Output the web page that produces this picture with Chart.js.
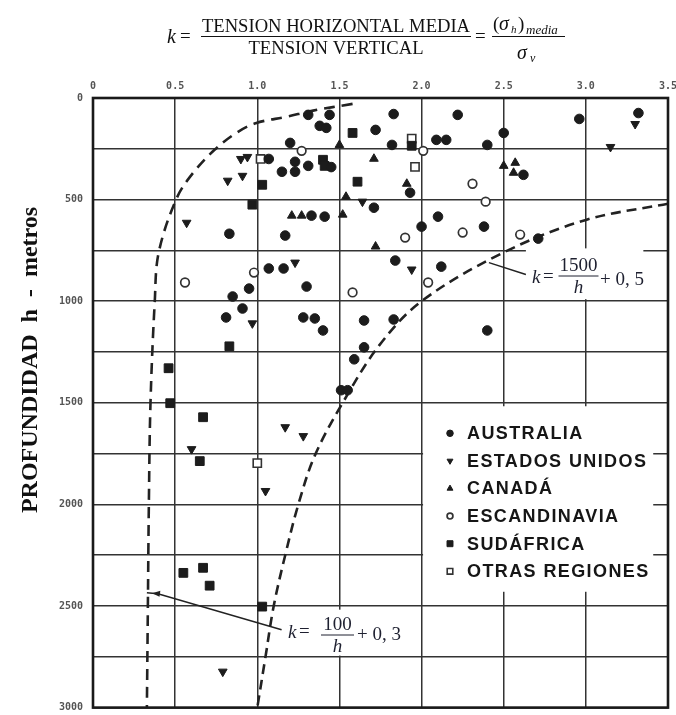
<!DOCTYPE html>
<html>
<head>
<meta charset="utf-8">
<script src="https://cdn.jsdelivr.net/npm/chart.js@4.4.1/dist/chart.umd.min.js"></script>
<style>
html,body{margin:0;padding:0;background:#fff;}
#caja{width:676px;height:715px;}
</style>
</head>
<body>
<div id="caja"><canvas id="lienzo"></canvas></div>
<script>
// valores: k = tension horizontal media / tension vertical, h = profundidad (m)
const australia_k = [1.31,1.44,1.38,1.42,1.72,1.20,1.07,1.15,1.23,1.23,1.31,1.45,1.71,1.33,1.41,0.83,1.17,1.07,1.16,0.95,1.30,0.85,0.91,0.81,1.28,1.35,1.40,1.65,1.65,1.59,1.51,1.55,1.83,2.22,1.82,2.09,2.15,2.40,2.50,2.96,3.32,2.62,1.93,2.10,2.00,2.38,2.71,1.84,2.12,1.83,2.40];
const australia_h = [83,83,137,147,157,221,300,363,314,363,334,340,540,579,584,668,677,839,839,938,928,977,1036,1080,1080,1085,1144,1095,1227,1286,1438,1438,79,83,231,206,206,231,172,103,74,378,466,584,633,633,692,800,830,1090,1144];

const estados_k = [0.90,0.94,0.82,0.91,1.64,0.57,1.23,0.97,1.17,1.28,0.60,1.05,0.79,3.30,3.15,1.94];
const estados_h = [300,290,407,383,510,614,810,1109,1620,1664,1728,1934,2823,128,241,844];

const canada_k = [1.50,1.71,1.54,1.21,1.27,1.52,1.72,2.50,2.57,2.56,1.91];
const canada_h = [231,299,486,579,579,574,731,334,319,368,422];

const escandinavia_k = [1.27,0.98,0.56,1.58,2.31,2.39,1.90,2.25,2.60,2.04,2.01];
const escandinavia_h = [260,859,908,957,422,510,687,662,672,908,260];

const sudafrica_k = [1.58,1.40,1.41,1.03,1.61,0.97,1.94,0.83,0.46,0.47,0.67,0.65,0.55,0.67,0.71,1.03];
const sudafrica_h = [172,304,334,427,412,525,235,1222,1330,1502,1571,1787,2337,2312,2400,2503];

const otras_k = [1.02,1.94,1.96,1.00];
const otras_h = [300,200,339,1797];

// curvas limite
const curva_alta_k = [3.5,3.0,2.5,2.0,1.74,1.52,1.35,1.25,1.17,1.10,1.05,1.0];
const curva_alta_h = [520,600,760,1000,1220,1500,1760,2000,2250,2500,2750,3000];
const curva_baja_k = [1.58,1.34,1.18,0.99,0.87,0.74,0.61,0.51,0.40,0.376,0.35,0.34,0.334,0.328];
const curva_baja_h = [29,62,92,124,173,255,368,492,760,1000,1500,2000,2500,3000];

const etiquetas_x = ['0','0.5','1.0','1.5','2.0','2.5','3.0','3.5'];
const etiquetas_y = ['0','500','1000','1500','2000','2500','3000'];

function puntos(ks, hs){
	return ks.map((k,i)=>({x:k, y:hs[i]}));
}

const negro = '#1c1c1c';

const series = [
	{label:'AUSTRALIA', data:puntos(australia_k,australia_h), pointStyle:'circle', pointRadius:4.8, backgroundColor:negro, borderColor:negro, borderWidth:1},
	{label:'ESTADOS UNIDOS', data:puntos(estados_k,estados_h), pointStyle:'triangle', rotation:180, pointRadius:5, backgroundColor:negro, borderColor:negro, borderWidth:1},
	{label:'CANADÁ', data:puntos(canada_k,canada_h), pointStyle:'triangle', pointRadius:5, backgroundColor:negro, borderColor:negro, borderWidth:1},
	{label:'ESCANDINAVIA', data:puntos(escandinavia_k,escandinavia_h), pointStyle:'circle', pointRadius:4.3, backgroundColor:'#fff', borderColor:'#333', borderWidth:1.7},
	{label:'SUDÁFRICA', data:puntos(sudafrica_k,sudafrica_h), pointStyle:'rect', pointRadius:6.2, backgroundColor:negro, borderColor:negro, borderWidth:1},
	{label:'OTRAS REGIONES', data:puntos(otras_k,otras_h), pointStyle:'rect', pointRadius:5.8, backgroundColor:'#fff', borderColor:'#333', borderWidth:1.6}
];

const curvas = [
	{label:'curva_alta', data:puntos(curva_alta_k,curva_alta_h), showLine:true, pointRadius:0, borderColor:'#222', borderWidth:2.6, borderDash:[10,6], tension:0.35, fill:false},
	{label:'curva_baja', data:puntos(curva_baja_k,curva_baja_h), showLine:true, pointRadius:0, borderColor:'#222', borderWidth:2.6, borderDash:[11,7], tension:0.35, fill:false}
];

// fraccion centrada en cx con la raya en yb
function fraccion(ctx, arriba, abajo, cx, yb, ancho, fuente_arriba, fuente_abajo){
	ctx.textAlign = 'center';
	ctx.font = fuente_arriba;
	ctx.fillText(arriba, cx, yb - 5);
	ctx.font = fuente_abajo;
	ctx.fillText(abajo, cx, yb + 17);
	ctx.beginPath();
	ctx.moveTo(cx - ancho/2, yb);
	ctx.lineTo(cx + ancho/2, yb);
	ctx.stroke();
	ctx.textAlign = 'left';
}

function sin_relleno(s){
	s.paddingLeft = 0; s.paddingRight = 0; s.paddingTop = 0; s.paddingBottom = 0;
}

const dibujos = {
	id:'dibujos',
	beforeDatasetsDraw(chart){
		const ctx = chart.ctx, sx = chart.scales.x, sy = chart.scales.y;
		const px = v=>sx.getPixelForValue(v), py = v=>sy.getPixelForValue(v);
		ctx.save();
		ctx.fillStyle = '#fff';
		// fondo de la leyenda
		ctx.fillRect(px(2.0)+1.5, py(1517), px(3.41)-px(2.0)-1.5, py(2430)-py(1517));
		// fondos de las formulas
		ctx.fillRect(px(2.635), py(740), px(3.35)-px(2.635), py(990)-py(740));
		ctx.fillRect(px(1.154), py(2518), px(1.864)-px(1.154), py(2744)-py(2518));
		ctx.restore();
	},
	afterDatasetsDraw(chart){
		const ctx = chart.ctx, sx = chart.scales.x, sy = chart.scales.y;
		const px = v=>sx.getPixelForValue(v), py = v=>sy.getPixelForValue(v);
		ctx.save();
		ctx.strokeStyle = '#222';
		ctx.lineWidth = 1.5;
		// lineas guia de las formulas
		ctx.beginPath();
		ctx.moveTo(px(2.41), py(810));
		ctx.lineTo(px(2.635), py(869));
		ctx.stroke();
		ctx.beginPath();
		ctx.moveTo(px(1.148), py(2617));
		ctx.lineTo(px(0.395), py(2440));
		ctx.lineTo(px(0.328), py(2435));
		ctx.stroke();
		ctx.fillStyle = '#222';
		ctx.beginPath();
		ctx.moveTo(px(0.36), py(2437));
		ctx.lineTo(px(0.41), py(2425));
		ctx.lineTo(px(0.405), py(2455));
		ctx.closePath();
		ctx.fill();

		// texto de las formulas
		ctx.fillStyle = '#1e2030';
		ctx.strokeStyle = '#1e2030';
		ctx.lineWidth = 1;
		ctx.textBaseline = 'alphabetic';
		ctx.textAlign = 'left';
		ctx.font = 'italic 19px "Liberation Serif"';
		ctx.fillText('k', 532, 283);
		ctx.font = '19px "Liberation Serif"';
		ctx.fillText('=', 543, 282);
		fraccion(ctx, '1500', 'h', 578.5, 276, 40, '19px "Liberation Serif"', 'italic 19px "Liberation Serif"');
		ctx.font = '19px "Liberation Serif"';
		ctx.fillText('+ 0, 5', 600, 285);

		ctx.font = 'italic 19px "Liberation Serif"';
		ctx.fillText('k', 288, 638);
		ctx.font = '19px "Liberation Serif"';
		ctx.fillText('=', 299, 637);
		fraccion(ctx, '100', 'h', 337.5, 635, 33, '19px "Liberation Serif"', 'italic 19px "Liberation Serif"');
		ctx.font = '19px "Liberation Serif"';
		ctx.fillText('+ 0, 3', 357, 640);

		// leyenda
		const fila0 = 433.3, paso = 27.6;
		chart.data.datasets.slice(0,6).forEach((d,i)=>{
			const y = fila0 + paso*i;
			ctx.fillStyle = d.backgroundColor;
			ctx.strokeStyle = d.borderColor;
			ctx.lineWidth = d.borderWidth;
			Chart.helpers.drawPoint(ctx, {pointStyle:d.pointStyle, radius:d.pointRadius*0.68, rotation:d.rotation||0, borderWidth:d.borderWidth*0.8}, 450, y);
			ctx.fillStyle = '#161616';
			ctx.font = 'bold 18px "Liberation Sans"';
			ctx.letterSpacing = '1.4px';
			ctx.textAlign = 'left';
			ctx.textBaseline = 'middle';
			ctx.fillText(d.label, 467, y + 1);
		});
		ctx.letterSpacing = '0px';
		ctx.restore();
	},
	afterDraw(chart){
		const ctx = chart.ctx, a = chart.chartArea;
		ctx.save();
		// marco
		ctx.strokeStyle = '#1a1a1a';
		ctx.lineWidth = 2.6;
		ctx.strokeRect(a.left, a.top, a.right - a.left, a.bottom - a.top);

		// titulo con la definicion de k
		ctx.fillStyle = '#111';
		ctx.strokeStyle = '#111';
		ctx.lineWidth = 1.1;
		ctx.textBaseline = 'alphabetic';
		ctx.font = 'italic 20px "Liberation Serif"';
		ctx.textAlign = 'left';
		ctx.fillText('k', 167, 43);
		ctx.font = '19px "Liberation Serif"';
		ctx.fillText('=', 180, 42);
		fraccion(ctx, 'TENSION HORIZONTAL MEDIA', 'TENSION VERTICAL', 336, 36.5, 270, '18.6px "Liberation Serif"', '18.6px "Liberation Serif"');
		ctx.font = '19px "Liberation Serif"';
		ctx.fillText('=', 475, 42);
		// (sigma_h)_media / sigma_v
		ctx.fillText('(', 493, 30);
		ctx.font = 'italic 20px "Liberation Serif"';
		ctx.fillText('σ', 499, 30);
		ctx.font = 'italic 11px "Liberation Serif"';
		ctx.fillText('h', 511, 33);
		ctx.font = '19px "Liberation Serif"';
		ctx.fillText(')', 518, 30);
		ctx.font = 'italic 13px "Liberation Serif"';
		ctx.fillText('media', 526, 34);
		ctx.beginPath();
		ctx.moveTo(492, 36.5);
		ctx.lineTo(565, 36.5);
		ctx.stroke();
		ctx.font = 'italic 20px "Liberation Serif"';
		ctx.fillText('σ', 517, 59);
		ctx.font = 'italic 12px "Liberation Serif"';
		ctx.fillText('v', 530, 62);

		// titulo del eje vertical
		ctx.translate(31, 360);
		ctx.rotate(-Math.PI/2);
		ctx.textAlign = 'center';
		ctx.textBaseline = 'middle';
		ctx.font = 'bold 24px "Liberation Serif"';
		ctx.fillText('PROFUNDIDAD  h  -  metros', 0, 0);
		ctx.restore();
	}
};

const ctx = document.getElementById('lienzo').getContext('2d');

const grafico = new Chart(ctx, {
	type:'scatter',
	data:{datasets: series.concat(curvas)},
	options:{
		responsive:true,
		maintainAspectRatio:false,
		devicePixelRatio:1,
		animation:false,
		layout:{padding:{left:0, right:8, top:0, bottom:5}},
		plugins:{legend:{display:false}, tooltip:{enabled:false}},
		scales:{
			x:{
				type:'linear', position:'top', min:0, max:3.5,
				afterFit:s=>{ s.height = 98; sin_relleno(s); },
				border:{display:false},
				grid:{color:'#333', lineWidth:1.5, drawTicks:false},
				ticks:{
					stepSize:0.5, padding:6, color:'#555', maxRotation:0, autoSkip:false,
					font:{family:'"DejaVu Sans Mono"', size:10, weight:'bold'},
					callback:v=>etiquetas_x[Math.round(v/0.5)]
				}
			},
			y:{
				type:'linear', reverse:true, min:0, max:3000,
				afterFit:s=>{ s.width = 93; sin_relleno(s); },
				border:{display:false},
				grid:{color:'#333', lineWidth:1.5, drawTicks:false},
				ticks:{
					stepSize:250, padding:10, color:'#555', autoSkip:false,
					font:{family:'"DejaVu Sans Mono"', size:10, weight:'bold'},
					callback:v=>(v % 500 === 0 ? etiquetas_y[v/500] : '')
				}
			}
		}
	},
	plugins:[dibujos]
});
</script>
</body>
</html>
